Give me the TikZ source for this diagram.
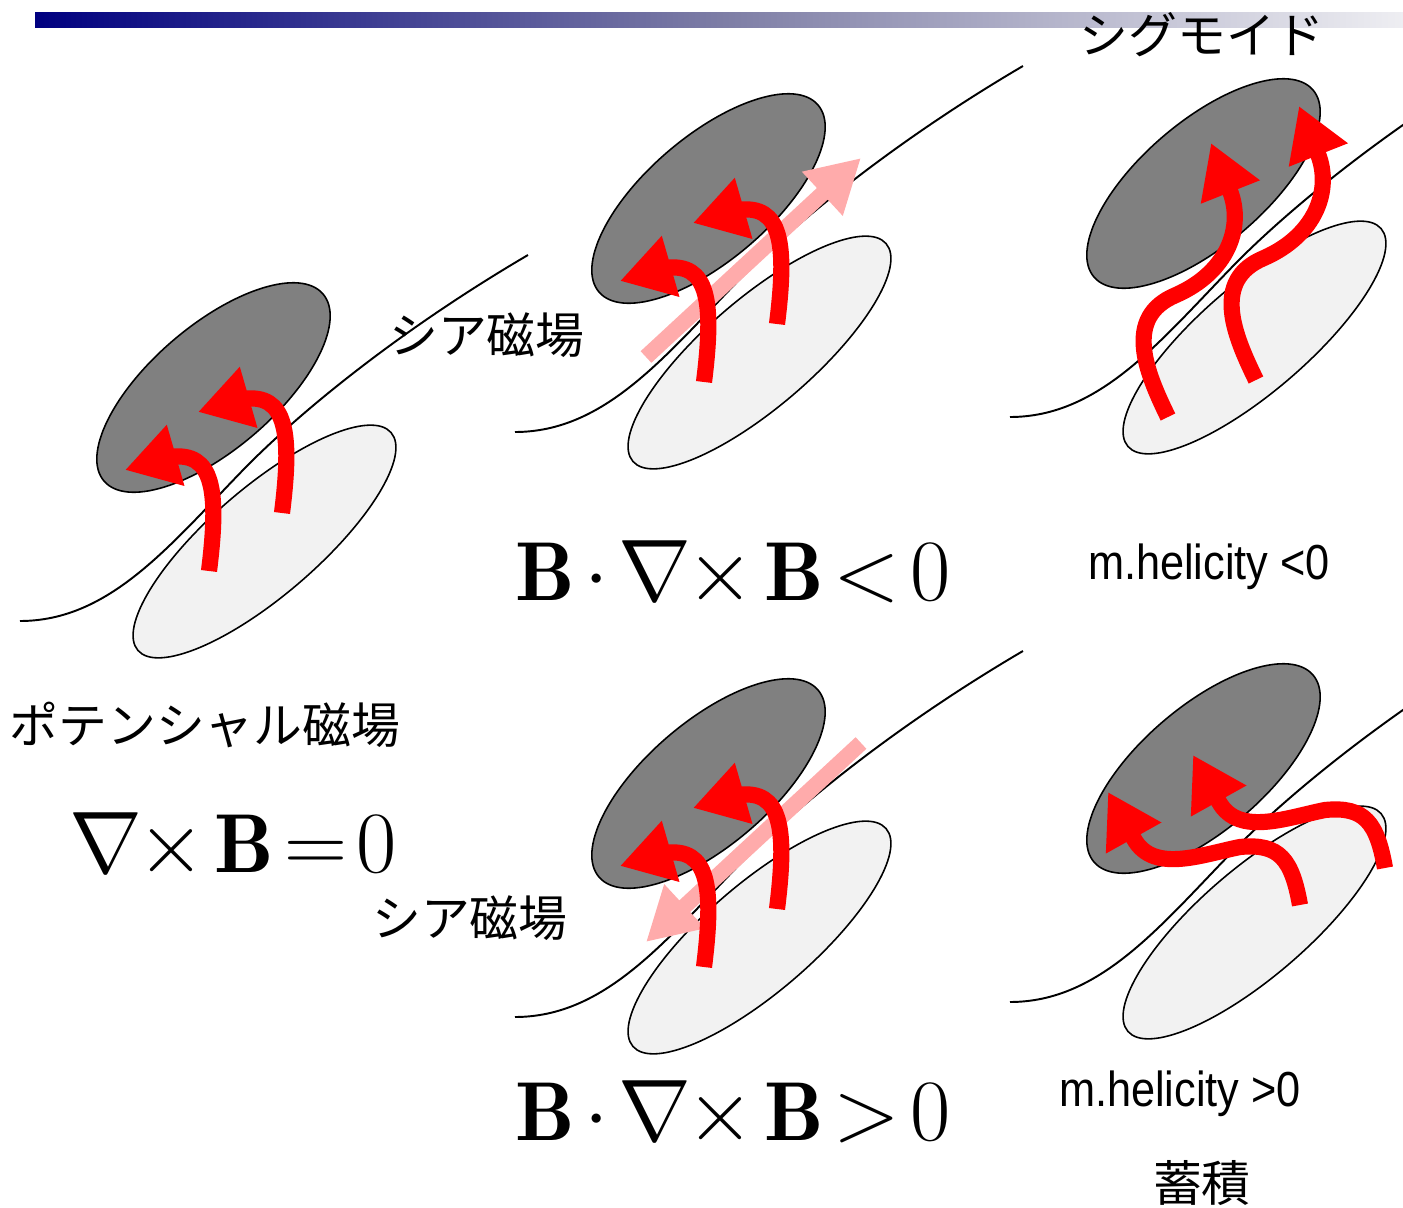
\documentclass[tikz,border=0pt]{standalone}
\usepackage{fontspec}
\usepackage{xcolor}
\usepackage{tikz}
\usetikzlibrary{arrows.meta}

\newfontfamily\jpfont{Noto Sans CJK JP}
\newfontfamily\helfont[FakeStretch=0.88]{Liberation Sans}

\definecolor{barleft}{RGB}{0,0,128}
\definecolor{barmid}{RGB}{125,125,165}
\definecolor{barright}{RGB}{238,238,242}

% narrower spacing round binary operators and relations
\newcommand{\tightmath}{\medmuskip=2mu\thickmuskip=2mu}

\begin{document}
\begin{tikzpicture}[
        x=0.1mm, y=-0.1mm,
        field/.style={draw, line width=0.55pt},
        upper/.style={draw, line width=0.45pt, fill=black!50},
        lower/.style={draw, line width=0.45pt, fill=black!5},
        flux/.style={draw=red, line width=4.6pt, -{Triangle[width=17pt, length=15pt]}},
        shear/.style={draw=red!33, line width=4.5pt, -{Triangle[width=16pt, length=15pt]}},
        jp/.style={font=\jpfont\fontsize{13.9pt}{16pt}\selectfont, inner sep=0pt},
        eq/.style={font=\fontsize{23.8pt}{28pt}\selectfont, inner sep=0pt, anchor=base},
        hel/.style={font=\helfont\fontsize{14pt}{17pt}\selectfont, inner sep=0pt, anchor=base},
        % field line with the two polarity patches
        spot/.pic={
            \draw[field] (20,621) .. controls (110,621) and (170,545) .. (245,468)
                .. controls (300,412) and (400,330) .. (528,255);
            \draw[upper, shift={(213.5,387.5)}, rotate=40.5] (0,0) ellipse [x radius=14.4mm, y radius=6.2mm];
            \draw[lower, shift={(264.5,541.5)}, rotate=40.7] (0,0) ellipse [x radius=16.7mm, y radius=5.4mm];
        },
        % flux tubes, origin at the foot of the tube
        curl/.pic={
            \draw[flux] (0,0) .. controls (10,-80) and (5,-120) .. (-39,-114) -- (-84,-101);
        },
        wave/.pic={
            \draw[flux] (0,0) .. controls (-22,-45) and (-45,-100) .. (8,-122)
                .. controls (60,-145) and (76,-190) .. (62,-226) -- (43,-274);
        },
        swirl/.pic={
            \draw[flux] (0,0) .. controls (-8,-45) and (-20,-62) .. (-60,-58)
                .. controls (-100,-50) and (-150,-30) .. (-168,-70) -- (-192,-113);
        },
    ]

    \useasboundingbox (0,0) rectangle (1403,1208);
    \clip (0,0) rectangle (1403,1208);

    % title bar
    \shade[left color=barleft, right color=barright, middle color=barmid] (35,12) rectangle (1403,27);

    % the five panels
    \pic at (0,0) {spot};
    \pic at (495,-189) {spot};
    \pic at (990,-204) {spot};
    \pic at (495,396) {spot};
    \pic at (990,381) {spot};

    % shear flow
    \draw[shear] (646,357) -- (861,158);
    \draw[shear] (861,743) -- (646,942);

    % potential field
    \pic at (209,571) {curl};
    \pic at (282,513) {curl};

    % sheared fields
    \pic at (704,382) {curl};
    \pic at (777,324) {curl};
    \pic at (704,967) {curl};
    \pic at (777,909) {curl};

    % sigmoid and storage
    \pic at (1168,417) {wave};
    \pic at (1256,380) {wave};
    \pic at (1300,905) {swirl};
    \pic at (1385,868) {swirl};

    % labels
    \node[jp] (sigmoid) at (1202,35) {シグモイド};
    \node[jp] (shear1) at (487,335) {シア磁場};
    \node[jp] (potential) at (205,725) {ポテンシャル磁場};
    \node[eq] (curlfree) at (233,872) {$\tightmath\nabla\mkern-3mu\times\mathbf{B}=0$};
    \node[eq] (negcase) at (733,600) {$\tightmath\mathbf{B}\cdot\nabla\mkern-3mu\times\mathbf{B}<0$};
    \node[hel] (helneg) at (1209,579) {m.helicity <0};
    \node[jp] (shear2) at (470,918) {シア磁場};
    \node[eq] (poscase) at (733,1140) {$\tightmath\mathbf{B}\cdot\nabla\mkern-3mu\times\mathbf{B}>0$};
    \node[hel] (helpos) at (1180,1106) {m.helicity >0};
    \node[jp] (storage) at (1202,1183) {蓄積};

\end{tikzpicture}
\end{document}
